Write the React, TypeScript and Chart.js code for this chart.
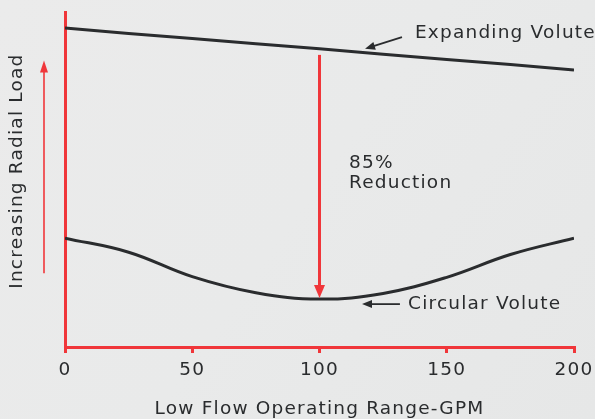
import React, { useEffect, useRef } from "react";
import { Chart, registerables } from "chart.js";

Chart.register(...registerables);

const flowGpm = [0, 25, 50, 75, 100, 125, 150, 175, 200];
const expandingVolute = [95.2, 93.6, 92.1, 90.5, 89.0, 87.4, 85.8, 84.3, 82.7];
const circularVolute = [32.5, 28.3, 21.0, 16.2, 14.3, 16.0, 20.8, 27.6, 32.5];
const xTicks = [0, 50, 100, 150, 200];
const xTitle = "Low Flow Operating Range-GPM";
const yTitle = "Increasing Radial Load";
const reductionFrom = 87.2;
const reductionTo = 14.6;
const reductionAt = 100;
const labelExpanding = { text: "Expanding Volute", x: 137.5, y: 93.7, tipX: 117.9, tipY: 89.0, tailX: 132.4, tailY: 92.5 };
const labelCircular = { text: "Circular Volute", x: 134.8, y: 12.8, tipX: 116.7, tipY: 12.8, tailX: 131.6, tailY: 12.8 };
const labelReduction = ["85%", "Reduction"];
const labelReductionPos = { x: 111.6, y: 54.9, y2: 49.0 };
const loadArrow = { from: 22, to: 85.5 };
const yTitleCenter = 52.5;

const RED = "#f0363a";
const DARK = "#2a2c2e";
const FONT = "'DejaVu Sans', sans-serif";
const FSIZE = 18.5;
const SPACING = "1.2px";

function arrow(ctx: CanvasRenderingContext2D, x1: number, y1: number, x2: number, y2: number, color: string, width: number, headLen: number, headW: number) {
  const ang = Math.atan2(y2 - y1, x2 - x1);
  const bx = x2 - headLen * Math.cos(ang);
  const by = y2 - headLen * Math.sin(ang);
  ctx.save();
  ctx.strokeStyle = color;
  ctx.fillStyle = color;
  ctx.lineWidth = width;
  ctx.beginPath();
  ctx.moveTo(x1, y1);
  ctx.lineTo(bx + Math.cos(ang) * 2, by + Math.sin(ang) * 2);
  ctx.stroke();
  ctx.beginPath();
  ctx.moveTo(x2, y2);
  ctx.lineTo(bx + (headW / 2) * Math.sin(ang), by - (headW / 2) * Math.cos(ang));
  ctx.lineTo(bx - (headW / 2) * Math.sin(ang), by + (headW / 2) * Math.cos(ang));
  ctx.closePath();
  ctx.fill();
  ctx.restore();
}

const spacingPlugin = {
  id: "spacing",
  beforeInit(chart: any) {
    chart.ctx.letterSpacing = SPACING;
  },
  beforeUpdate(chart: any) {
    chart.ctx.letterSpacing = SPACING;
  },
  beforeLayout(chart: any) {
    chart.ctx.letterSpacing = SPACING;
  },
  beforeDraw(chart: any) {
    chart.ctx.letterSpacing = SPACING;
  },
};

const bgPlugin = {
  id: "bg",
  beforeDraw(chart: any) {
    const { ctx, width, height } = chart;
    ctx.save();
    const g = ctx.createLinearGradient(0, 0, width, height);
    g.addColorStop(0, "#ebebeb");
    g.addColorStop(0.5, "#e9eaea");
    g.addColorStop(1, "#e6e7e7");
    ctx.fillStyle = g;
    ctx.fillRect(0, 0, width, height);
    ctx.restore();
  },
};

const annotPlugin = {
  id: "annot",
  afterDatasetsDraw(chart: any) {
    const { ctx, scales } = chart;
    const xs = scales.x;
    const ys = scales.y;
    const X = (v: number) => xs.getPixelForValue(v);
    const Y = (v: number) => ys.getPixelForValue(v);
    arrow(ctx, X(reductionAt), Y(reductionFrom), X(reductionAt), Y(reductionTo), RED, 3, 13, 11);
    const ax = chart.chartArea.left - 21;
    arrow(ctx, ax, Y(loadArrow.from), ax, Y(loadArrow.to), RED, 1.6, 12, 8);
    for (const l of [labelExpanding, labelCircular]) {
      arrow(ctx, X(l.tailX), Y(l.tailY), X(l.tipX), Y(l.tipY), DARK, 1.8, 10, 8);
    }
    ctx.save();
    ctx.letterSpacing = SPACING;
    ctx.fillStyle = DARK;
    ctx.font = `${FSIZE}px ${FONT}`;
    ctx.textBaseline = "middle";
    ctx.textAlign = "left";
    ctx.fillText(labelExpanding.text, X(labelExpanding.x), Y(labelExpanding.y));
    ctx.fillText(labelCircular.text, X(labelCircular.x), Y(labelCircular.y));
    ctx.fillText(labelReduction[0], X(labelReductionPos.x), Y(labelReductionPos.y));
    ctx.fillText(labelReduction[1], X(labelReductionPos.x), Y(labelReductionPos.y2));
    // y axis title
    ctx.translate(ys.left + 17, Y(yTitleCenter));
    ctx.rotate(-Math.PI / 2);
    ctx.textAlign = "center";
    ctx.fillText(yTitle, 0, 0);
    ctx.restore();
  },
};

export default function App() {
  const ref = useRef<HTMLCanvasElement | null>(null);
  useEffect(() => {
    document.body.style.margin = "0";
    const canvas = ref.current!;
    const chart = new Chart(canvas, {
      type: "line",
      data: {
        labels: flowGpm,
        datasets: [
          {
            label: "Expanding Volute",
            data: flowGpm.map((x, i) => ({ x, y: expandingVolute[i] })),
            borderColor: DARK,
            borderWidth: 3,
            pointRadius: 0,
            tension: 0,
          },
          {
            label: "Circular Volute",
            data: flowGpm.map((x, i) => ({ x, y: circularVolute[i] })),
            borderColor: DARK,
            borderWidth: 3,
            pointRadius: 0,
            tension: 0.4,
          },
        ],
      },
      options: {
        animation: false,
        responsive: false,
        layout: { padding: { top: 12, right: 21, left: 0, bottom: 0 } },
        plugins: { legend: { display: false }, tooltip: { enabled: false } },
        scales: {
          x: {
            type: "linear",
            min: 0,
            max: 200,
            afterBuildTicks: (s: any) => {
              s.ticks = xTicks.map((v) => ({ value: v }));
            },
            afterFit: (s: any) => {
              s.height = 72;
              s.paddingRight = 0;
              s.paddingLeft = 0;
            },
            ticks: { color: DARK, font: { family: FONT, size: FSIZE }, padding: 6 },
            grid: { drawOnChartArea: false, drawTicks: true, tickLength: 6, color: RED, lineWidth: 3 },
            border: { color: RED, width: 3 },
            title: { display: true, text: xTitle, color: DARK, font: { family: FONT, size: FSIZE }, padding: { top: 0, bottom: -1 } },
          },
          y: {
            min: 0,
            max: 100,
            afterFit: (s: any) => {
              s.width = 65;
            },
            ticks: { display: false },
            grid: { display: false },
            border: { color: RED, width: 3 },
            title: { display: false, text: yTitle },
          },
        },
      },
      plugins: [spacingPlugin, bgPlugin, annotPlugin],
    } as any);
    return () => chart.destroy();
  }, []);
  return <canvas ref={ref} width={595} height={419} style={{ display: "block" }} />;
}
